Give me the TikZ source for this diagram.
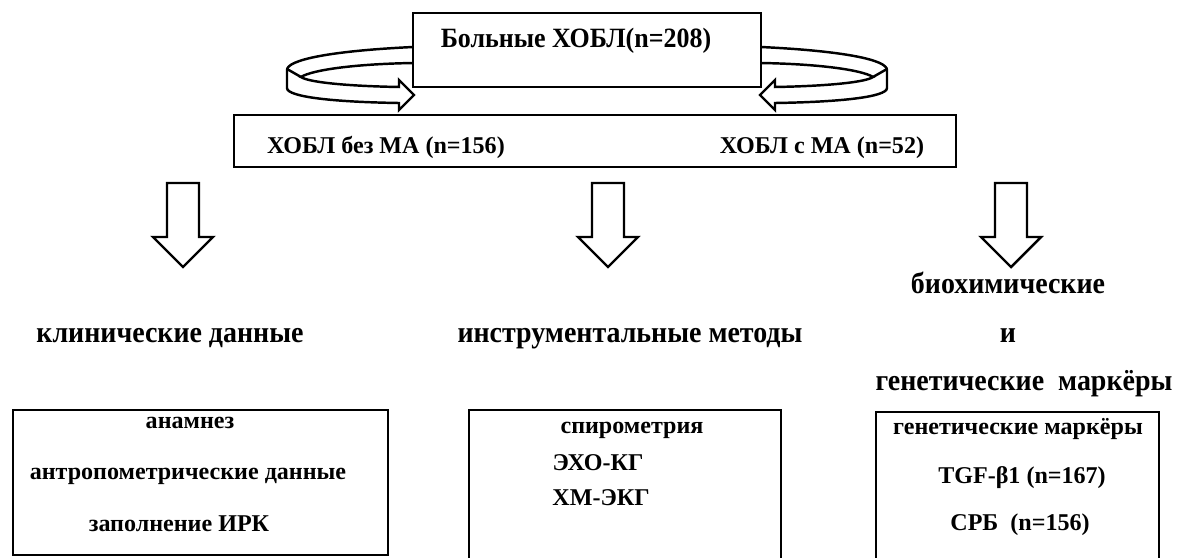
\documentclass[tikz,border=0pt]{standalone}
\usepackage{fontspec}
\setmainfont{Liberation Serif}
\newfontfamily\lblfont{Liberation Serif}[FakeStretch=0.93]

% block arrow pointing down, centred at x = #1
\newcommand{\blockdown}[1]{%
  \draw[blk] ({#1-16},183) -- ({#1+16},183) -- ({#1+16},237) -- ({#1+30},237)
    -- (#1,267) -- ({#1-30},237) -- ({#1-16},237) -- cycle;}

% curved ribbon arrow on the right of the top box
\newcommand{\loopband}{%
  \draw[blk] (761,47) .. controls (845,51) and (887,60) .. (887,70) -- (887,88)
    .. controls (887,97) and (840,102) .. (775,103) -- (775,110) -- (760,95)
    -- (775,80) -- (775,87) .. controls (830,86) and (866,82) .. (873,77)
    .. controls (862,70) and (820,64) .. (761,63);
  \draw[blk] (873,77) -- (887,69);}

\begin{document}
\begin{tikzpicture}[x=0.02cm, y=-0.02cm,
  blk/.style={line width=1.4pt, fill=white},
  frame/.style={line width=1.6pt},
  head/.style={font=\lblfont\bfseries\fontsize{15.9}{18}\selectfont, inner sep=0pt, anchor=base},
  lbl/.style={font=\lblfont\bfseries\fontsize{17.1}{20}\selectfont, inner sep=0pt, anchor=base},
  txt/.style={font=\bfseries\fontsize{13.7}{16}\selectfont, inner sep=0pt, anchor=base}]
\useasboundingbox (0,0) rectangle (1177,558);

% loops from the top box
\loopband
\begin{scope}[shift={(1174,0)}, xscale=-1]
\loopband
\end{scope}

% top box and groups
\draw[frame, fill=white] (413,13) rectangle (761,87);
\node[head] (total) at (576,47) {Больные ХОБЛ(n=208)};
\draw[frame] (234,115) rectangle (956,167);
\node[txt] (noma) at (386,153) {ХОБЛ без МА (n=156)};
\node[txt] (withma) at (822,153) {ХОБЛ с МА (n=52)};

% arrows down
\blockdown{183}
\blockdown{608}
\blockdown{1011}

% headings
\node[lbl] (clin) at (170,342) {клинические данные};
\node[lbl] (instr) at (630,342) {инструментальные методы};
\node[lbl] (bio) at (1008,293) {биохимические};
\node[lbl] (and) at (1008,342) {и};
\node[lbl] (gen) at (1024,390) {генетические\ \ маркёры};

% lower boxes
\draw[frame] (13,410) rectangle (388,555);
\node[txt] (anam) at (190,428) {анамнез};
\node[txt] (anthr) at (188,479) {антропометрические данные};
\node[txt] (irk) at (179,531) {заполнение ИРК};

\draw[frame] (469,558) -- (469,410) -- (781,410) -- (781,558);
\node[txt] (spiro) at (632,433) {спирометрия};
\node[txt] (echo) at (598,470) {ЭХО-КГ};
\node[txt] (holter) at (601,505) {ХМ-ЭКГ};

\draw[frame] (876,558) -- (876,412) -- (1159,412) -- (1159,558);
\node[txt] (markers) at (1018,434) {генетические маркёры};
\node[txt] (tgf) at (1022,483) {TGF-β1 (n=167)};
\node[txt] (crp) at (1020,530) {СРБ\ \ (n=156)};
\end{tikzpicture}
\end{document}
